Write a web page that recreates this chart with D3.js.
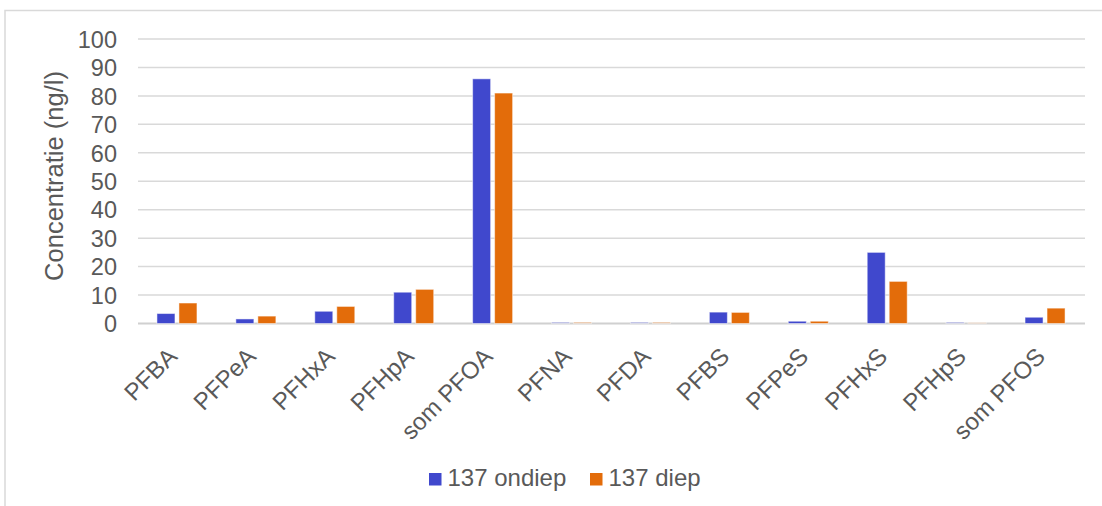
<!DOCTYPE html>
<html>
<head>
<meta charset="utf-8">
<script src="https://cdn.jsdelivr.net/npm/d3@7"></script>
<style>
  html, body { margin: 0; padding: 0; background: #fff; }
  svg { display: block; font-family: "Liberation Sans", Arial, sans-serif; }
</style>
</head>
<body>
<svg id="chart" width="1102" height="506"></svg>
<script>
// PFAS concentrations per compound, shallow vs deep well 137
const categories = ["PFBA", "PFPeA", "PFHxA", "PFHpA", "som PFOA", "PFNA", "PFDA", "PFBS", "PFPeS", "PFHxS", "PFHpS", "som PFOS"];
const ondiep = [3.5, 1.6, 4.3, 11.0, 86, 0.5, 0.5, 4.0, 0.8, 25.0, 0.5, 2.2];
const diep = [7.2, 2.6, 6.0, 12.0, 81, 0.5, 0.5, 3.9, 0.8, 14.8, 0.3, 5.4];
// values below the reporting limit, drawn faded
const belowLimit = ["PFNA", "PFDA", "PFHpS"];
const seriesNames = ["137 ondiep", "137 diep"];
const yTicks = [0, 10, 20, 30, 40, 50, 60, 70, 80, 90, 100];

const colors = ["#4048CD", "#E36C0A"];
const textColor = "#595959";
const svg = d3.select("#chart");

// outer frame
svg.append("rect")
  .attr("x", 5).attr("y", 10.5)
  .attr("width", 1110).attr("height", 520)
  .attr("fill", "none").attr("stroke", "#d9d9d9").attr("stroke-width", 1.5);

const margin = { left: 138, right: 1085, top: 39, bottom: 323.5 };

const x = d3.scaleBand().domain(categories).range([margin.left, margin.right]);
const y = d3.scaleLinear().domain([0, 100]).range([margin.bottom, margin.top]);

// gridlines
svg.append("g")
  .selectAll("line").data(yTicks).join("line")
  .attr("x1", margin.left).attr("x2", margin.right)
  .attr("y1", d => y(d)).attr("y2", d => y(d))
  .attr("stroke", d => d === 0 ? "#d0d0d0" : "#d9d9d9")
  .attr("stroke-width", d => d === 0 ? 2 : 1.5);

// y axis labels
const yAxis = d3.axisLeft(y).tickValues(yTicks).tickSize(0).tickPadding(0);
const gy = svg.append("g").attr("transform", `translate(117,0)`).call(yAxis);
gy.select(".domain").remove();
gy.selectAll("text")
  .attr("fill", textColor)
  .attr("dy", "0.35em")
  .style("font-size", "23.5px")
  .style("font-family", "'Liberation Sans', Arial, sans-serif");

// axis title
svg.append("text")
  .attr("transform", `translate(62.5,176) rotate(-90)`)
  .attr("text-anchor", "middle")
  .attr("fill", textColor)
  .style("font-size", "25.5px")
  .text("Concentratie (ng/l)");

// bars
const series = [ondiep, diep];
const barW = 18;
const groups = svg.append("g");
categories.forEach((c, i) => {
  series.forEach((vals, s) => {
    const faded = belowLimit.includes(c);
    const cx = x(c) + x.bandwidth() / 2 + (s === 0 ? -11.5 : 10.5);
    groups.append("rect")
      .attr("x", cx - barW / 2)
      .attr("y", y(vals[i]))
      .attr("width", barW)
      .attr("height", y(0) - y(vals[i]))
      .attr("fill", colors[s])
      .attr("fill-opacity", faded ? 0.4 : 1)
      .attr("stroke", "#fff")
      .attr("stroke-opacity", 0.5)
      .attr("stroke-width", 1);
  });
});

// category labels
svg.append("g")
  .selectAll("text").data(categories).join("text")
  .attr("transform", d => `translate(${x(d) + x.bandwidth() / 2 + 1},${358}) rotate(-45)`)
  .attr("text-anchor", "end")
  .attr("fill", textColor)
  .style("font-size", "24px")
  .text(d => d);

// legend
const legend = svg.append("g");
const legendX = [429, 590];
seriesNames.forEach((n, s) => {
  legend.append("rect")
    .attr("x", legendX[s]).attr("y", 473)
    .attr("width", 12.5).attr("height", 12.5)
    .attr("fill", colors[s]);
  legend.append("text")
    .attr("x", legendX[s] + 18.5).attr("y", 485.5)
    .attr("fill", textColor)
    .style("font-size", "24px")
    .text(n);
});
</script>
</body>
</html>
